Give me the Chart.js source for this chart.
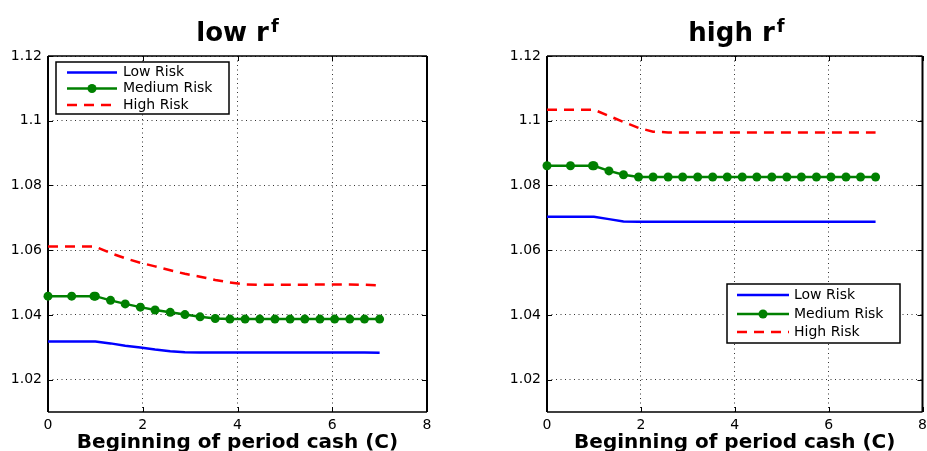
<!DOCTYPE html>
<html>
<head>
<meta charset="utf-8">
<script src="https://cdn.jsdelivr.net/npm/chart.js@4"></script>
<style>
  body { margin: 0; background: #fff; }
  #wrap { position: relative; width: 927px; height: 451px; overflow: hidden; }
  .panel { position: absolute; top: 0; }
  .ttl {
    position: absolute; top: 17px; line-height: 30px; text-align: center;
    font: bold 26px 'DejaVu Sans', sans-serif; color: #000;
  }
  .ttl span { font-size: 18px; position: relative; top: -9px; margin-left: 2px; }
</style>
</head>
<body>
<div id="wrap">
  <canvas id="lowChart" class="panel" style="left:0" width="463" height="451"></canvas>
  <canvas id="highChart" class="panel" style="left:463px" width="464" height="451"></canvas>
  <div class="ttl" style="left:48px;width:379px">low r<span>f</span></div>
  <div class="ttl" style="left:547px;width:379px">high r<span>f</span></div>
</div>
<script>
// beginning of period cash grid (same for every curve)
const cash = [0, 0.5, 0.97, 1, 1.32, 1.63, 1.95, 2.26, 2.58, 2.89, 3.21, 3.53,
  3.84, 4.16, 4.47, 4.79, 5.11, 5.42, 5.74, 6.05, 6.37, 6.68, 7];

const riskNames = ['Low Risk', 'Medium Risk', 'High Risk'];

// low risk-free rate
const lowRfLow = [1.0318, 1.0318, 1.0318, 1.0318, 1.0312, 1.0305, 1.0299, 1.0293,
  1.0288, 1.0285, 1.0284, 1.0284, 1.0284, 1.0284, 1.0284, 1.0284, 1.0284, 1.0284,
  1.0284, 1.0284, 1.0284, 1.0284, 1.0283];
const lowRfMed = [1.0458, 1.0458, 1.0458, 1.0458, 1.0445, 1.0434, 1.0424, 1.0415,
  1.0408, 1.0401, 1.0394, 1.0389, 1.0387, 1.0387, 1.0387, 1.0387, 1.0387, 1.0387,
  1.0387, 1.0387, 1.0387, 1.0387, 1.0387];
const lowRfHigh = [1.0611, 1.0611, 1.0611, 1.0611, 1.0591, 1.0575, 1.0561, 1.0550,
  1.0538, 1.0527, 1.0518, 1.0508, 1.0500, 1.0494, 1.0493, 1.0493, 1.0493, 1.0493,
  1.0494, 1.0494, 1.0494, 1.0493, 1.0491];

// high risk-free rate
const highRfLow = [1.0703, 1.0703, 1.0703, 1.0703, 1.0696, 1.0689, 1.0688, 1.0688,
  1.0688, 1.0688, 1.0688, 1.0688, 1.0688, 1.0688, 1.0688, 1.0688, 1.0688, 1.0688,
  1.0688, 1.0688, 1.0688, 1.0688, 1.0688];
const highRfMed = [1.0861, 1.0861, 1.0861, 1.0861, 1.0845, 1.0833, 1.0826, 1.0826,
  1.0826, 1.0826, 1.0826, 1.0826, 1.0826, 1.0826, 1.0826, 1.0826, 1.0826, 1.0826,
  1.0826, 1.0826, 1.0826, 1.0826, 1.0826];
const highRfHigh = [1.1034, 1.1034, 1.1034, 1.1034, 1.1015, 1.0996, 1.0978, 1.0966,
  1.0964, 1.0964, 1.0964, 1.0964, 1.0964, 1.0964, 1.0964, 1.0964, 1.0964, 1.0964,
  1.0964, 1.0964, 1.0964, 1.0964, 1.0964];

const xTicks = [0, 2, 4, 6, 8];
const yTicks = [1.02, 1.04, 1.06, 1.08, 1.1, 1.12];

Chart.defaults.font.family = "'DejaVu Sans', sans-serif";
Chart.defaults.color = '#000';

// axes box with short inward ticks on all four sides
const frame = {
  id: 'frame',
  beforeDatasetsDraw(chart) {
    const { ctx, chartArea: a, scales } = chart;
    ctx.save();
    ctx.strokeStyle = '#000';
    ctx.lineWidth = 1;
    ctx.beginPath();
    xTicks.forEach(v => {
      const px = Math.round(scales.x.getPixelForValue(v)) + 0.5;
      ctx.moveTo(px, a.bottom); ctx.lineTo(px, a.bottom - 5);
      ctx.moveTo(px, a.top); ctx.lineTo(px, a.top + 5);
    });
    yTicks.forEach(v => {
      const py = Math.round(scales.y.getPixelForValue(v)) + 0.5;
      ctx.moveTo(a.left, py); ctx.lineTo(a.left + 5, py);
      ctx.moveTo(a.right, py); ctx.lineTo(a.right - 5, py);
    });
    ctx.stroke();
    ctx.lineWidth = 1.5;
    ctx.beginPath();
    ctx.moveTo(a.left, a.top); ctx.lineTo(a.right, a.top);
    ctx.moveTo(a.left, a.bottom); ctx.lineTo(a.right, a.bottom);
    ctx.stroke();
    ctx.lineWidth = 2;
    ctx.beginPath();
    ctx.moveTo(a.left, a.top); ctx.lineTo(a.left, a.bottom);
    ctx.moveTo(a.right, a.top); ctx.lineTo(a.right, a.bottom);
    ctx.stroke();
    ctx.restore();
  }
};

// boxed legend at a fixed spot inside the axes
const riskLegend = {
  id: 'riskLegend',
  afterDraw(chart, args, opts) {
    const ctx = chart.ctx;
    const [x1, y1, x2, y2] = opts.box;
    ctx.save();
    ctx.fillStyle = '#fff';
    ctx.fillRect(x1, y1, x2 - x1, y2 - y1);
    ctx.strokeStyle = '#000';
    ctx.lineWidth = 1.5;
    ctx.strokeRect(x1, y1, x2 - x1, y2 - y1);
    chart.data.datasets.forEach((ds, i) => {
      const ry = opts.rows[i];
      ctx.strokeStyle = ds.borderColor;
      ctx.lineWidth = ds.borderWidth;
      ctx.setLineDash(ds.borderDash || []);
      ctx.beginPath();
      ctx.moveTo(opts.line[0], ry);
      ctx.lineTo(opts.line[1], ry);
      ctx.stroke();
      ctx.setLineDash([]);
      if (ds.pointRadius) {
        ctx.fillStyle = ds.pointBackgroundColor;
        ctx.beginPath();
        ctx.arc((opts.line[0] + opts.line[1]) / 2, ry, ds.pointRadius, 0, Math.PI * 2);
        ctx.fill();
      }
      ctx.fillStyle = '#000';
      ctx.font = "14px 'DejaVu Sans'";
      ctx.textBaseline = 'middle';
      ctx.fillText(ds.label, opts.textX, ry);
    });
    ctx.restore();
  }
};

function toPoints(ys) {
  return cash.map((c, i) => ({ x: c, y: ys[i] }));
}

function makeChart(id, low, med, high, axisWidth, padRight, legend) {
  return new Chart(document.getElementById(id), {
    type: 'line',
    data: {
      datasets: [
        { label: riskNames[0], data: toPoints(low), borderColor: '#0000ff',
          borderWidth: 2.5, pointRadius: 0, clip: false },
        { label: riskNames[1], data: toPoints(med), borderColor: '#008000',
          pointBackgroundColor: '#008000', pointBorderWidth: 0,
          borderWidth: 2.5, pointRadius: 4.5, clip: false },
        { label: riskNames[2], data: toPoints(high), borderColor: '#ff0000',
          borderWidth: 2.5, borderDash: [10, 7], pointRadius: 0, clip: false }
      ]
    },
    options: {
      responsive: false,
      animation: false,
      devicePixelRatio: 1,
      layout: { padding: { top: 56, right: padRight, left: 0, bottom: 0 } },
      plugins: {
        legend: { display: false },
        tooltip: { enabled: false },
        riskLegend: legend
      },
      scales: {
        x: {
          type: 'linear', min: 0, max: 8,
          afterBuildTicks: s => { s.ticks = xTicks.map(v => ({ value: v })); },
          afterFit: s => { s.height = 39; s.paddingLeft = 0; s.paddingRight = 0; },
          ticks: { font: { size: 14 }, padding: 5, maxRotation: 0 },
          grid: { color: '#333', lineWidth: 1, drawTicks: false },
          border: { display: false, dash: [1, 3.5] },
          title: {
            display: true, text: 'Beginning of period cash (C)',
            font: { size: 20, weight: 'bold' }, padding: { top: 0, bottom: -4 }
          }
        },
        y: {
          min: 1.01, max: 1.12,
          afterBuildTicks: s => { s.ticks = yTicks.map(v => ({ value: v })); },
          afterFit: s => { s.width = axisWidth; s.paddingTop = 0; s.paddingBottom = 0; },
          ticks: { font: { size: 14 }, padding: 6, callback: v => String(+v.toFixed(2)) },
          grid: { color: '#333', lineWidth: 1, drawTicks: false },
          border: { display: false, dash: [1, 3.5] }
        }
      }
    },
    plugins: [frame, riskLegend]
  });
}

makeChart('lowChart', lowRfLow, lowRfMed, lowRfHigh, 48, 36, {
  box: [56, 62, 229, 114], rows: [72.5, 88.5, 105], line: [67, 117], textX: 123
});
makeChart('highChart', highRfLow, highRfMed, highRfHigh, 84, 1, {
  box: [264, 284, 437, 343], rows: [295, 314, 332], line: [274, 326], textX: 331
});
</script>
</body>
</html>
